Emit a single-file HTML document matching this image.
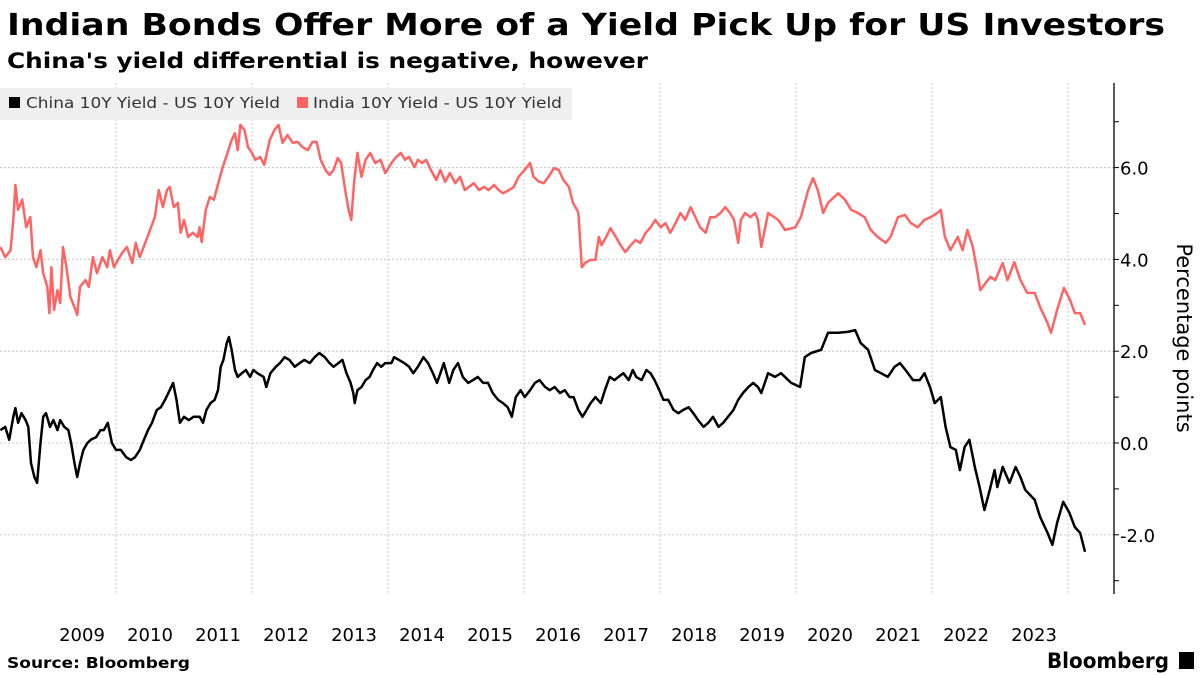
<!DOCTYPE html>
<html><head><meta charset="utf-8"><style>
html,body{margin:0;padding:0;background:#fff;}
svg{display:block;font-family:"DejaVu Sans","Liberation Sans",sans-serif;}
</style></head><body>
<svg id="chart" width="1200" height="675" viewBox="0 0 1200 675">
<text x="7" y="35" font-size="30" font-weight="bold" fill="#000" textLength="1158" lengthAdjust="spacingAndGlyphs">Indian Bonds Offer More of a Yield Pick Up for US Investors</text>
<text x="7" y="68" font-size="21" font-weight="bold" fill="#000" textLength="641" lengthAdjust="spacingAndGlyphs">China's yield differential is negative, however</text>
<g id="grid"></g>
<g id="series"></g>
<g>
<rect x="0" y="88" width="572" height="32" fill="#efefef"/>
<g>
<rect x="9" y="97" width="11" height="11" fill="#000"/>
<text x="26" y="108" font-size="15" fill="#333" textLength="254" lengthAdjust="spacingAndGlyphs">China 10Y Yield - US 10Y Yield</text></g>
<g>
<rect x="297" y="97" width="11" height="11" fill="#ff6464"/>
<text x="313" y="108" font-size="15" fill="#333" textLength="249" lengthAdjust="spacingAndGlyphs">India 10Y Yield - US 10Y Yield</text></g>
</g>
<g id="axes"></g>
<text transform="translate(1177,338) rotate(90)" text-anchor="middle" font-size="21" fill="#000">Percentage points</text>
<text x="7" y="668" font-size="15" font-weight="bold" fill="#000" textLength="183" lengthAdjust="spacingAndGlyphs">Source: Bloomberg</text>
<text x="1047" y="668" font-size="21" font-weight="bold" fill="#000" textLength="122" lengthAdjust="spacingAndGlyphs">Bloomberg</text>
<rect x="1179" y="652" width="15" height="17" fill="#000"/>
</svg>
<script>
const yTicks=[6,4,2,0,-2];
const yTickLabels=["6.0","4.0","2.0","0.0","-2.0"];
const yMinor=[7,6,5,4,3,2,1,0,-1,-2,-3];
const xYears=[2009,2010,2011,2012,2013,2014,2015,2016,2017,2018,2019,2020,2021,2022,2023];
const xGridYears=[2010,2012,2014,2016,2018,2020,2022,2024];
const indiaDates=[2008.30,2008.37,2008.45,2008.49,2008.52,2008.56,2008.62,2008.68,2008.74,2008.78,2008.83,2008.89,2008.93,2008.99,2009.02,2009.05,2009.09,2009.14,2009.18,2009.22,2009.27,2009.33,2009.39,2009.43,2009.47,2009.55,2009.60,2009.66,2009.72,2009.80,2009.87,2009.91,2009.97,2010.03,2010.09,2010.16,2010.24,2010.29,2010.35,2010.43,2010.50,2010.57,2010.63,2010.69,2010.75,2010.79,2010.85,2010.91,2010.95,2011.00,2011.06,2011.13,2011.20,2011.23,2011.26,2011.32,2011.38,2011.44,2011.53,2011.57,2011.64,2011.70,2011.75,2011.79,2011.83,2011.89,2011.94,2012.00,2012.05,2012.12,2012.18,2012.26,2012.33,2012.39,2012.45,2012.52,2012.60,2012.67,2012.74,2012.82,2012.89,2012.95,2013.01,2013.08,2013.14,2013.20,2013.26,2013.31,2013.37,2013.42,2013.46,2013.50,2013.55,2013.61,2013.67,2013.74,2013.81,2013.89,2013.96,2014.05,2014.12,2014.19,2014.25,2014.31,2014.39,2014.44,2014.50,2014.56,2014.63,2014.71,2014.77,2014.84,2014.91,2014.99,2015.06,2015.13,2015.19,2015.26,2015.34,2015.41,2015.48,2015.56,2015.63,2015.69,2015.78,2015.85,2015.92,2016.01,2016.09,2016.14,2016.22,2016.29,2016.36,2016.44,2016.51,2016.58,2016.66,2016.72,2016.78,2016.80,2016.85,2016.91,2016.98,2017.05,2017.10,2017.14,2017.21,2017.27,2017.35,2017.42,2017.49,2017.57,2017.64,2017.71,2017.79,2017.86,2017.93,2018.01,2018.08,2018.15,2018.23,2018.30,2018.37,2018.45,2018.52,2018.59,2018.67,2018.74,2018.81,2018.89,2018.96,2019.03,2019.09,2019.15,2019.19,2019.25,2019.33,2019.40,2019.44,2019.49,2019.59,2019.74,2019.84,2019.99,2020.07,2020.18,2020.25,2020.32,2020.40,2020.47,2020.62,2020.72,2020.81,2020.91,2021.01,2021.10,2021.20,2021.32,2021.39,2021.50,2021.60,2021.69,2021.79,2021.89,2021.98,2022.08,2022.13,2022.19,2022.27,2022.38,2022.45,2022.52,2022.60,2022.67,2022.71,2022.79,2022.86,2022.93,2023.04,2023.11,2023.21,2023.30,2023.40,2023.51,2023.59,2023.70,2023.75,2023.84,2023.94,2024.03,2024.10,2024.18,2024.25];
const indiaValues=[4.27,4.05,4.2,4.86,5.62,5.08,5.3,4.7,4.92,4.05,3.83,4.2,3.7,3.4,2.83,3.83,2.9,3.33,3.05,4.27,3.83,3.18,2.96,2.79,3.4,3.55,3.4,4.05,3.7,4.05,3.83,4.2,3.83,3.99,4.14,4.27,3.92,4.36,4.05,4.36,4.64,4.92,5.51,5.14,5.51,5.58,5.14,5.23,4.58,4.86,4.49,4.58,4.49,4.7,4.38,5.08,5.36,5.3,5.8,6.01,6.32,6.6,6.75,6.38,6.93,6.82,6.45,6.32,6.17,6.23,6.06,6.6,6.82,6.93,6.54,6.71,6.54,6.56,6.45,6.38,6.56,6.56,6.17,5.95,5.84,5.95,6.21,6.1,5.51,5.08,4.86,5.66,6.32,5.8,6.17,6.32,6.1,6.17,5.88,6.1,6.23,6.32,6.17,6.23,6.01,6.17,6.1,6.17,5.95,5.73,5.95,5.69,5.88,5.66,5.8,5.51,5.58,5.66,5.51,5.58,5.51,5.62,5.51,5.44,5.51,5.58,5.8,5.95,6.1,5.8,5.69,5.66,5.8,5.99,5.95,5.73,5.58,5.23,5.08,5.01,3.83,3.94,3.99,3.99,4.49,4.31,4.49,4.68,4.49,4.31,4.16,4.31,4.42,4.36,4.58,4.7,4.86,4.7,4.79,4.58,4.79,5.01,4.86,5.14,4.92,4.7,4.58,4.92,4.92,5.01,5.14,5.01,4.86,4.36,4.86,5.01,4.92,5.01,4.86,4.27,5.01,4.86,4.64,4.7,4.92,5.51,5.77,5.51,5.01,5.23,5.44,5.3,5.08,5.01,4.92,4.64,4.49,4.36,4.49,4.92,4.97,4.79,4.7,4.86,4.92,5.01,5.08,4.49,4.2,4.49,4.2,4.64,4.27,3.7,3.33,3.49,3.62,3.55,3.92,3.55,3.94,3.55,3.27,3.27,2.96,2.61,2.4,2.9,3.38,3.12,2.83,2.83,2.57];
const chinaDates=[2008.30,2008.37,2008.43,2008.49,2008.52,2008.56,2008.61,2008.67,2008.71,2008.75,2008.80,2008.84,2008.89,2008.93,2008.97,2009.03,2009.08,2009.14,2009.18,2009.24,2009.30,2009.34,2009.39,2009.43,2009.47,2009.52,2009.58,2009.63,2009.71,2009.77,2009.82,2009.88,2009.94,2010.00,2010.07,2010.15,2010.22,2010.28,2010.35,2010.41,2010.47,2010.53,2010.60,2010.66,2010.72,2010.79,2010.84,2010.89,2010.94,2011.00,2011.07,2011.14,2011.23,2011.28,2011.33,2011.39,2011.45,2011.50,2011.54,2011.58,2011.63,2011.66,2011.70,2011.75,2011.79,2011.85,2011.91,2011.97,2012.02,2012.08,2012.17,2012.21,2012.27,2012.35,2012.41,2012.48,2012.55,2012.63,2012.70,2012.77,2012.85,2012.92,2012.99,2013.07,2013.14,2013.20,2013.27,2013.33,2013.39,2013.45,2013.49,2013.51,2013.55,2013.61,2013.67,2013.73,2013.78,2013.84,2013.90,2013.96,2014.05,2014.09,2014.16,2014.24,2014.31,2014.37,2014.44,2014.52,2014.59,2014.66,2014.72,2014.77,2014.82,2014.90,2014.96,2015.03,2015.10,2015.18,2015.25,2015.32,2015.40,2015.47,2015.54,2015.62,2015.69,2015.76,2015.82,2015.88,2015.95,2016.01,2016.09,2016.16,2016.23,2016.31,2016.38,2016.45,2016.53,2016.60,2016.67,2016.73,2016.80,2016.86,2016.92,2016.98,2017.05,2017.13,2017.19,2017.26,2017.33,2017.39,2017.46,2017.54,2017.60,2017.65,2017.73,2017.80,2017.86,2017.92,2017.99,2018.05,2018.12,2018.20,2018.27,2018.34,2018.42,2018.49,2018.56,2018.64,2018.71,2018.78,2018.86,2018.93,2019.00,2019.08,2019.15,2019.22,2019.30,2019.37,2019.44,2019.49,2019.59,2019.69,2019.78,2019.93,2020.06,2020.13,2020.22,2020.37,2020.47,2020.62,2020.76,2020.87,2020.95,2021.06,2021.16,2021.25,2021.35,2021.45,2021.53,2021.61,2021.72,2021.82,2021.89,2021.97,2022.04,2022.13,2022.20,2022.27,2022.35,2022.41,2022.48,2022.55,2022.63,2022.70,2022.77,2022.85,2022.92,2022.96,2023.04,2023.14,2023.23,2023.30,2023.37,2023.51,2023.59,2023.70,2023.77,2023.84,2023.93,2024.02,2024.10,2024.18,2024.25];
const chinaValues=[0.28,0.35,0.07,0.57,0.76,0.44,0.65,0.5,0.35,-0.44,-0.74,-0.87,0,0.57,0.65,0.35,0.5,0.28,0.5,0.35,0.28,0,-0.44,-0.74,-0.44,-0.15,0,0.07,0.13,0.28,0.28,0.44,0,-0.15,-0.15,-0.31,-0.37,-0.31,-0.15,0.07,0.28,0.44,0.72,0.78,0.94,1.15,1.31,0.94,0.44,0.57,0.5,0.57,0.57,0.44,0.72,0.87,0.94,1.15,1.66,1.81,2.18,2.31,2.03,1.59,1.44,1.52,1.59,1.44,1.59,1.52,1.44,1.22,1.52,1.66,1.74,1.87,1.81,1.66,1.74,1.81,1.74,1.87,1.96,1.87,1.74,1.66,1.74,1.81,1.52,1.31,1.09,0.87,1.15,1.22,1.37,1.44,1.59,1.74,1.66,1.74,1.74,1.87,1.81,1.74,1.66,1.52,1.66,1.87,1.74,1.52,1.31,1.52,1.74,1.31,1.59,1.74,1.44,1.31,1.37,1.44,1.31,1.31,1.09,0.94,0.87,0.78,0.57,1.0,1.15,1.0,1.15,1.31,1.37,1.22,1.15,1.22,1.09,1.15,1.0,1.0,0.72,0.57,0.72,0.87,1.0,0.87,1.15,1.44,1.37,1.44,1.52,1.37,1.59,1.44,1.37,1.59,1.52,1.37,1.15,0.94,0.94,0.72,0.65,0.72,0.78,0.65,0.5,0.35,0.44,0.57,0.35,0.44,0.57,0.72,0.94,1.09,1.22,1.31,1.22,1.09,1.52,1.44,1.52,1.31,1.22,1.87,1.96,2.03,2.4,2.4,2.42,2.46,2.18,2.03,1.59,1.52,1.44,1.66,1.74,1.59,1.37,1.37,1.52,1.22,0.87,1.0,0.35,-0.09,-0.15,-0.59,-0.09,0.07,-0.52,-0.96,-1.46,-1.02,-0.59,-0.96,-0.52,-0.87,-0.52,-0.74,-1.02,-1.24,-1.61,-1.96,-2.22,-1.74,-1.28,-1.52,-1.83,-1.96,-2.37];

const NS="http://www.w3.org/2000/svg";
const PX_PER_YEAR=68.0, X_2010=116;
function xScale(t){return X_2010+(t-2010)*PX_PER_YEAR;}
function yScale(v){return 443-v*45.9;}
const AX=1114, TOP=83, BOT=594;
function mk(tag,attrs,parent){const e=document.createElementNS(NS,tag);for(const k in attrs)e.setAttribute(k,attrs[k]);parent.appendChild(e);return e;}
const grid=document.getElementById('grid');
yTicks.forEach(v=>{
  const l=mk('line',{x1:0,x2:AX,y1:yScale(v),y2:yScale(v),stroke:'#c8c8c8','stroke-width':1,'stroke-dasharray':'2,2'},grid);
  
  
});
xGridYears.forEach(y=>{
  const l=mk('line',{x1:xScale(y),x2:xScale(y),y1:TOP,y2:BOT,stroke:'#c8c8c8','stroke-width':1,'stroke-dasharray':'2,2'},grid);
  
  
});
const series=document.getElementById('series');
function path(dates,vals){return dates.map((d,i)=>(i?'L':'M')+xScale(d).toFixed(1)+','+yScale(vals[i]).toFixed(1)).join('');}
const pi=mk('path',{d:path(indiaDates,indiaValues),fill:'none',stroke:'#ff6464','stroke-width':2.5,'stroke-linejoin':'round'},series);


const pc=mk('path',{d:path(chinaDates,chinaValues),fill:'none',stroke:'#000','stroke-width':2.5,'stroke-linejoin':'round'},series);


const axes=document.getElementById('axes');
const al=mk('line',{x1:AX,x2:AX,y1:TOP,y2:BOT,stroke:'#000','stroke-width':1.3},axes);


yMinor.forEach(v=>{
  const t=mk('line',{x1:AX,x2:AX+5,y1:yScale(v),y2:yScale(v),stroke:'#000','stroke-width':1},axes);
  
  
});
yTicks.forEach((v,i)=>{
  const t=mk('text',{x:AX+6,y:yScale(v)+7,'font-size':18,fill:'#000'},axes);
  t.textContent=yTickLabels[i];
  
  
});
xYears.forEach(y=>{
  const t=mk('text',{x:xScale(y+0.5),y:641,'font-size':18,fill:'#000','text-anchor':'middle'},axes);
  t.textContent=String(y);
  
  
});
</script>
</body></html>
